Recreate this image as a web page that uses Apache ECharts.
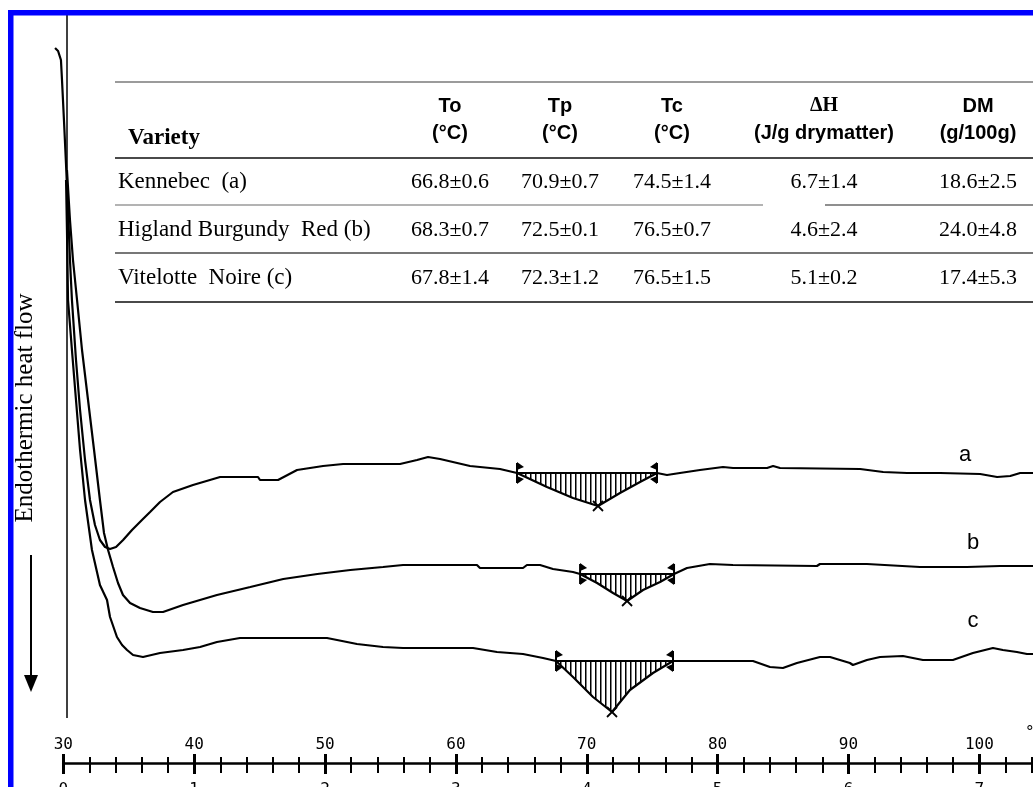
<!DOCTYPE html>
<html>
<head>
<meta charset="utf-8">
<script src="https://cdn.jsdelivr.net/npm/echarts@6/dist/echarts.min.js"></script>
<style>
  html, body { margin: 0; padding: 0; background: #fff; }
  #chart { width: 1033px; height: 787px; }
</style>
</head>
<body>
<div id="chart"></div>
<script>
// DSC thermograms of three potato varieties: temperature (°C) vs. heat flow (arbitrary units, endotherm down)
const curveA = [
  [29.37,67.0],[29.60,66.7],[29.82,65.8],[29.90,63.8],[30.05,59.8],[30.21,55.3],[30.36,50.8],[30.51,45.8],
  [30.66,41.8],[30.97,35.8],[31.28,30.8],[31.66,25.8],[32.04,21.8],[32.42,19.3],[32.80,17.8],[33.19,17.1],
  [33.57,16.9],[34.03,17.1],[34.57,17.8],[35.25,18.8],[36.01,19.8],[36.63,20.6],[37.39,21.6],[38.38,22.6],
  [39.91,23.3],[41.98,24.1],[44.88,24.1],[45.03,23.8],[46.41,23.8],[47.86,24.8],[49.85,25.2],[51.38,25.4],
  [55.73,25.4],[57.03,25.8],[57.87,26.1],[58.79,25.9],[61.08,25.2],[63.37,24.9],[64.67,24.5],[66.96,23.1],
  [68.95,22.0],[70.86,21.2],[72.54,22.5],[74.07,23.6],[75.37,24.5],[76.13,24.3],[77.12,24.5],[78.65,24.8],
  [80.41,25.1],[81.18,25.0],[83.78,25.0],[84.24,25.2],[84.77,25.0],[90.89,24.9],[92.65,24.6],[94.48,24.5],
  [97.00,24.5],[100.06,24.4],[101.36,24.1],[102.36,24.2],[103.12,24.5],[104.11,24.5]
];
const curveB = [
  [30.28,54.8],[30.51,49.8],[30.74,45.8],[31.05,41.8],[31.43,36.8],[31.89,31.8],[32.35,26.8],[32.80,21.8],
  [33.11,18.5],[33.42,16.8],[33.80,15.1],[34.18,13.5],[34.56,12.3],[35.10,11.5],[35.86,11.0],[36.85,10.6],
  [37.62,10.6],[39.15,11.3],[41.74,12.3],[44.29,13.1],[46.81,13.9],[49.41,14.4],[51.93,14.8],[54.43,15.1],
  [55.96,15.3],[61.61,15.3],[61.84,15.0],[65.13,15.0],[65.43,15.3],[66.43,15.3],[67.42,14.9],[68.95,14.6],
  [69.49,14.4],[70.79,13.5],[72.01,12.5],[73.08,11.7],[74.30,12.8],[75.60,13.6],[76.67,14.4],[77.66,15.0],
  [79.41,15.4],[81.17,15.3],[87.59,15.2],[87.82,15.4],[91.41,15.4],[95.46,15.1],[99.05,15.1],[101.58,15.2],
  [104.11,15.2]
];
const curveC = [
  [30.21,53.8],[30.28,48.8],[30.36,41.8],[30.66,36.8],[30.97,31.8],[31.28,26.8],[31.66,21.8],[32.19,16.8],
  [32.80,13.3],[33.34,11.8],[33.57,10.1],[34.10,8.1],[34.49,7.3],[34.87,6.8],[35.33,6.3],[36.09,6.1],
  [37.39,6.5],[39.15,6.8],[40.45,7.1],[41.74,7.6],[43.50,8.0],[50.15,8.0],[50.92,7.8],[52.44,7.4],
  [54.43,7.1],[55.96,7.0],[61.31,7.0],[63.14,6.6],[65.13,6.4],[66.66,6.0],[67.65,5.7],[68.95,4.1],
  [70.48,2.1],[71.93,0.6],[73.30,2.8],[75.06,4.5],[76.59,5.7],[76.89,5.7],[82.70,5.7],[84.00,5.1],
  [84.99,5.0],[86.06,5.5],[87.82,6.1],[88.59,6.1],[90.11,5.5],[90.34,5.3],[91.41,5.8],[92.41,6.1],
  [94.16,6.2],[95.69,5.8],[97.98,5.8],[99.51,6.5],[101.04,7.0],[101.80,6.8],[102.87,6.6],[103.64,6.4],
  [104.11,6.4]
];
const curveNames = ['a', 'b', 'c'];

// Gelatinisation endotherm: onset, end and peak points on each trace
const onsetPoints = [[64.67,24.5],[69.49,14.4],[67.65,5.7]];
const endPoints   = [[75.37,24.5],[76.67,14.4],[76.59,5.7]];
const peakPoints  = [[70.86,21.2],[73.08,11.7],[71.93,0.6]];

// Temperature scale and the matching run time (min) underneath
const tempTicks = [30, 40, 50, 60, 70, 80, 90, 100];
const timeLabels = ['0', '1', '2', '3', '4', '5', '6', '7'];

// Inset table
const tableVarieties = ['Kennebec  (a)', 'Higland Burgundy  Red (b)', 'Vitelotte  Noire (c)'];
const tableTo = ['66.8\u00b10.6', '68.3\u00b10.7', '67.8\u00b11.4'];
const tableTp = ['70.9\u00b10.7', '72.5\u00b10.1', '72.3\u00b11.2'];
const tableTc = ['74.5\u00b11.4', '76.5\u00b10.7', '76.5\u00b11.5'];
const tableDH = ['6.7\u00b11.4', '4.6\u00b12.4', '5.1\u00b10.2'];
const tableDM = ['18.6\u00b12.5', '24.0\u00b14.8', '17.4\u00b15.3'];
const tableHeads = [['To', '(\u00b0C)'], ['Tp', '(\u00b0C)'], ['Tc', '(\u00b0C)'], ['\u0394H', '(J/g drymatter)'], ['DM', '(g/100g)']];

const curves = [curveA, curveB, curveC];

// vertical-line hatch used inside each endotherm
const hatch = document.createElement('canvas');
hatch.width = 5; hatch.height = 5;
const hctx = hatch.getContext('2d');
hctx.fillStyle = '#000';
hctx.fillRect(0, 0, 1.5, 5);

function bracket(pt, dir) {
  const x = pt[0], y = pt[1];
  return [
    { type: 'line', shape: { x1: x, y1: y - 10, x2: x, y2: y + 10 }, style: { stroke: '#000', lineWidth: 2 } },
    { type: 'polygon', shape: { points: [[x, y - 11], [x + dir * 7, y - 6], [x, y - 3]] }, style: { fill: '#000' } },
    { type: 'polygon', shape: { points: [[x, y + 11], [x + dir * 7, y + 6], [x, y + 3]] }, style: { fill: '#000' } }
  ];
}

function renderEndotherm(params, api) {
  const i = params.dataIndex;
  const s = onsetPoints[i], e = endPoints[i], p = peakPoints[i];
  const seg = curves[i].filter(d => d[0] >= s[0] && d[0] <= e[0]).map(d => api.coord(d));
  const ps = api.coord(s), pe = api.coord(e), pp = api.coord(p);
  const children = [
    { type: 'polygon', shape: { points: seg }, style: { fill: { image: hatch, repeat: 'repeat' }, stroke: null } },
    { type: 'line', shape: { x1: ps[0], y1: ps[1], x2: pe[0], y2: pe[1] }, style: { stroke: '#000', lineWidth: 2 } },
    ...bracket(ps, 1), ...bracket(pe, -1),
    { type: 'line', shape: { x1: pp[0] - 5, y1: pp[1] - 5, x2: pp[0] + 5, y2: pp[1] + 5 }, style: { stroke: '#000', lineWidth: 1.8 } },
    { type: 'line', shape: { x1: pp[0] - 5, y1: pp[1] + 5, x2: pp[0] + 5, y2: pp[1] - 5 }, style: { stroke: '#000', lineWidth: 1.8 } }
  ];
  return { type: 'group', children: children };
}

// ---- static graphics: frame, table, axis title, trace letters ----
const graphics = [];
graphics.push({ type: 'rect', shape: { x: 8, y: 10, width: 1025, height: 5.5 }, style: { fill: '#0000ff' }, z: 100 });
graphics.push({ type: 'rect', shape: { x: 8, y: 10, width: 5.5, height: 777 }, style: { fill: '#0000ff' }, z: 100 });

const serif = '"Liberation Serif", "Times New Roman", serif';
const sans = '"Liberation Sans", Arial, sans-serif';
const mono = '"DejaVu Sans Mono", monospace';

function hline(x1, x2, y, color, w) {
  graphics.push({ type: 'line', shape: { x1: x1, y1: y, x2: x2, y2: y }, style: { stroke: color, lineWidth: w } });
}
function txt(x, y, text, font, align) {
  graphics.push({ type: 'text', x: x, y: y, style: { text: text, font: font, fill: '#000', align: align || 'center', verticalAlign: 'middle' } });
}
hline(115, 1033, 82, '#7a7a7a', 1.5);
hline(115, 1033, 158, '#4a4a4a', 2);
hline(115, 763, 205, '#9a9a9a', 1.5);
hline(825, 1033, 205, '#6a6a6a', 1.5);
hline(115, 1033, 253, '#4a4a4a', 1.5);
hline(115, 1033, 302, '#4a4a4a', 2);

const colX = [450, 560, 672, 824, 978];
txt(128, 138, 'Variety', 'bold 23px ' + serif, 'left');
tableHeads.forEach((h, j) => {
  txt(colX[j], 106, h[0], (j === 3 ? 'bold 20px ' + serif : 'bold 20px ' + sans));
  txt(colX[j], 133, h[1], 'bold 20px ' + sans);
});
const rowY = [182, 230, 278];
const cols = [tableTo, tableTp, tableTc, tableDH, tableDM];
tableVarieties.forEach((v, r) => {
  txt(118, rowY[r], v, '23px ' + serif, 'left');
  cols.forEach((c, j) => txt(colX[j], rowY[r], c[r], '22px ' + serif));
});

graphics.push({ type: 'text', x: 25, y: 408, rotation: Math.PI / 2,
  style: { text: 'Endothermic heat flow', font: '25px ' + serif, fill: '#000', align: 'center', verticalAlign: 'middle' } });
graphics.push({ type: 'line', shape: { x1: 31, y1: 555, x2: 31, y2: 680 }, style: { stroke: '#000', lineWidth: 2 } });
graphics.push({ type: 'polygon', shape: { points: [[24, 675], [38, 675], [31, 692]] }, style: { fill: '#000' } });

const letterPos = [[965, 455], [973, 543], [973, 621]];
curveNames.forEach((n, i) => txt(letterPos[i][0], letterPos[i][1], n, '22px ' + sans));
txt(1025, 733, '\u00b0C', '16px ' + mono, 'left');
txt(1019, 795, 'min', '16px ' + mono, 'left');

const chart = echarts.init(document.getElementById('chart'), null, { renderer: 'canvas' });
const lineStyle = { color: '#000', width: 2.2 };

chart.setOption({
  animation: false,
  backgroundColor: '#fff',
  grid: [
    { left: -67.56, right: -77.2, top: 15, bottom: 69, outerBoundsMode: 'none', containLabel: false },
    { left: 63.3, right: -77.2, top: 700, bottom: 24, outerBoundsMode: 'none', containLabel: false }
  ],
  xAxis: [
    { type: 'value', gridIndex: 0, min: 20, max: 110, show: false },
    {
      type: 'value', gridIndex: 1, min: 30, max: 110, interval: 10, position: 'bottom',
      axisLine: { show: true, lineStyle: { color: '#000', width: 2.5 } },
      axisTick: { show: true, inside: true, length: 9, lineStyle: { color: '#000', width: 3 } },
      minorTick: { show: true, splitNumber: 5, length: 6, lineStyle: { color: '#000', width: 2 } },
      splitLine: { show: false },
      axisLabel: {
        inside: true, margin: 10, color: '#000', fontFamily: 'DejaVu Sans Mono', fontSize: 16,
        showMinLabel: true, showMaxLabel: false, hideOverlap: false,
        formatter: v => (tempTicks.indexOf(v) >= 0 ? String(v) : '')
      }
    },
    {
      type: 'value', gridIndex: 1, min: 30, max: 110, interval: 10, position: 'bottom',
      axisLine: { show: false },
      axisTick: { show: true, inside: false, length: 11, lineStyle: { color: '#000', width: 3 } },
      minorTick: { show: true, splitNumber: 5, length: 10, lineStyle: { color: '#000', width: 2 } },
      splitLine: { show: false },
      axisLabel: {
        margin: 19, color: '#000', fontFamily: 'DejaVu Sans Mono', fontSize: 16, showMaxLabel: false,
        formatter: v => { const k = tempTicks.indexOf(v); return k >= 0 ? timeLabels[k] : ''; }
      }
    }
  ],
  yAxis: [
    { type: 'value', gridIndex: 0, min: 0, max: 70.3, show: false },
    { type: 'value', gridIndex: 1, min: 0, max: 1, show: false }
  ],
  graphic: graphics,
  series: [
    {
      type: 'line', name: 'a', data: curveA, xAxisIndex: 0, yAxisIndex: 0, showSymbol: false, symbol: 'none',
      lineStyle: lineStyle, silent: true,
      markLine: {
        silent: true, symbol: ['none', 'none'], label: { show: false },
        lineStyle: { color: '#000', width: 1.5, type: 'solid' },
        data: [{ xAxis: 30.26 }]
      }
    },
    { type: 'line', name: 'b', data: curveB, xAxisIndex: 0, yAxisIndex: 0, showSymbol: false, symbol: 'none', lineStyle: lineStyle, silent: true },
    { type: 'line', name: 'c', data: curveC, xAxisIndex: 0, yAxisIndex: 0, showSymbol: false, symbol: 'none', lineStyle: lineStyle, silent: true },
    {
      type: 'custom', xAxisIndex: 0, yAxisIndex: 0, silent: true,
      data: onsetPoints, renderItem: renderEndotherm, z: 3
    }
  ]
});
</script>
</body>
</html>
